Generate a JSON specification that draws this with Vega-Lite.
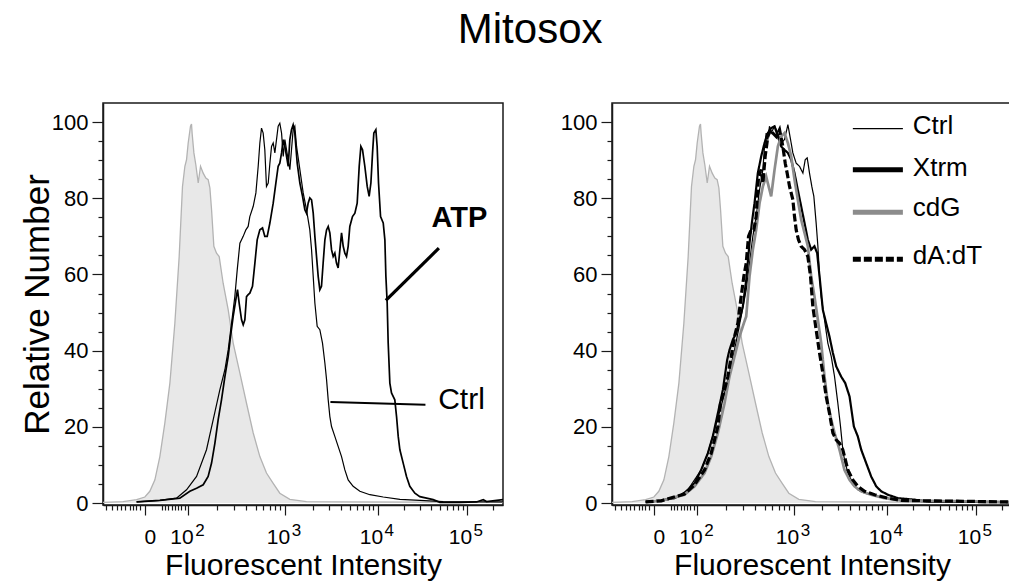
{
  "$schema": "https://vega.github.io/schema/vega-lite/v6.json",
  "padding": {"left": 19, "top": 9, "right": 0, "bottom": 0},
  "background": "white",
  "config": {
    "font": "Liberation Sans",
    "view": {"stroke": "#1a1a1a", "strokeWidth": 1.5},
    "axis": {"domainColor": "#1a1a1a", "domainWidth": 1.5, "tickColor": "#1a1a1a", "tickWidth": 1.2, "labelColor": "black", "titleColor": "black", "labelFont": "Liberation Sans", "titleFont": "Liberation Sans", "titleFontWeight": "normal", "grid": false, "labelOverlap": false, "labelFlush": false, "labelBound": false},
    "title": {"font": "Liberation Sans", "fontWeight": "normal", "color": "black"}
  },
  "title": {"text": "Mitosox", "fontSize": 42, "anchor": "middle", "offset": 50, "dx": 14},
  "spacing": 55,
  "datasets": {
    "gray": [
      {"u": -0.455, "v": 0.2}, {"u": -0.236, "v": 0.4}, {"u": -0.09, "v": 0.9}, {"u": 0, "v": 1.6}, {"u": 0.054, "v": 3.1}, {"u": 0.109, "v": 6.1}, {"u": 0.163, "v": 12.2}, {"u": 0.217, "v": 21}, {"u": 0.272, "v": 31.5}, {"u": 0.326, "v": 47.2}, {"u": 0.373, "v": 64.7}, {"u": 0.409, "v": 83.1}, {"u": 0.435, "v": 88.4}, {"u": 0.453, "v": 90.1}, {"u": 0.471, "v": 94.5}, {"u": 0.496, "v": 98.9}, {"u": 0.507, "v": 99.5}, {"u": 0.514, "v": 97}, {"u": 0.533, "v": 91.9}, {"u": 0.554, "v": 88.8}, {"u": 0.58, "v": 84}, {"u": 0.605, "v": 88.4}, {"u": 0.634, "v": 86.6}, {"u": 0.663, "v": 85.3}, {"u": 0.688, "v": 84.9}, {"u": 0.707, "v": 82.7}, {"u": 0.725, "v": 77}, {"u": 0.75, "v": 67.4}, {"u": 0.779, "v": 65.6}, {"u": 0.808, "v": 64.7}, {"u": 0.851, "v": 57.7}, {"u": 0.906, "v": 50.7}, {"u": 0.96, "v": 42}, {"u": 1.033, "v": 34.1}, {"u": 1.105, "v": 26.2}, {"u": 1.178, "v": 18.4}, {"u": 1.25, "v": 12.2}, {"u": 1.322, "v": 7.9}, {"u": 1.395, "v": 5.2}, {"u": 1.467, "v": 2.6}, {"u": 1.576, "v": 1}, {"u": 1.757, "v": 0.4}, {"u": 2.156, "v": 0.3}, {"u": 3.893, "v": 0.2}
    ],
    "left": [
      {"series": "Ctrl", "u": -0.09, "v": 0.3}, {"series": "Ctrl", "u": 0.163, "v": 0.7}, {"series": "Ctrl", "u": 0.344, "v": 1.3}, {"series": "Ctrl", "u": 0.453, "v": 3.5}, {"series": "Ctrl", "u": 0.562, "v": 7.0}, {"series": "Ctrl", "u": 0.67, "v": 14.0}, {"series": "Ctrl", "u": 0.743, "v": 21.9}, {"series": "Ctrl", "u": 0.815, "v": 29.7}, {"series": "Ctrl", "u": 0.87, "v": 35.0}, {"series": "Ctrl", "u": 0.906, "v": 40.2}, {"series": "Ctrl", "u": 0.942, "v": 47.2}, {"series": "Ctrl", "u": 0.978, "v": 54.2}, {"series": "Ctrl", "u": 1.004, "v": 61.2}, {"series": "Ctrl", "u": 1.033, "v": 68.2}, {"series": "Ctrl", "u": 1.069, "v": 70.0}, {"series": "Ctrl", "u": 1.098, "v": 71.7}, {"series": "Ctrl", "u": 1.123, "v": 72.6}, {"series": "Ctrl", "u": 1.141, "v": 75.2}, {"series": "Ctrl", "u": 1.178, "v": 77.9}, {"series": "Ctrl", "u": 1.207, "v": 81.4}, {"series": "Ctrl", "u": 1.232, "v": 88.4}, {"series": "Ctrl", "u": 1.25, "v": 94.5}, {"series": "Ctrl", "u": 1.268, "v": 98.4}, {"series": "Ctrl", "u": 1.286, "v": 97.1}, {"series": "Ctrl", "u": 1.304, "v": 92.7}, {"series": "Ctrl", "u": 1.322, "v": 83.1}, {"series": "Ctrl", "u": 1.341, "v": 84.0}, {"series": "Ctrl", "u": 1.359, "v": 89.2}, {"series": "Ctrl", "u": 1.377, "v": 93.6}, {"series": "Ctrl", "u": 1.395, "v": 94.5}, {"series": "Ctrl", "u": 1.413, "v": 91.9}, {"series": "Ctrl", "u": 1.431, "v": 95.4}, {"series": "Ctrl", "u": 1.449, "v": 98.9}, {"series": "Ctrl", "u": 1.467, "v": 99.7}, {"series": "Ctrl", "u": 1.486, "v": 97.1}, {"series": "Ctrl", "u": 1.504, "v": 91.0}, {"series": "Ctrl", "u": 1.522, "v": 95.4}, {"series": "Ctrl", "u": 1.54, "v": 92.7}, {"series": "Ctrl", "u": 1.576, "v": 87.5}, {"series": "Ctrl", "u": 1.612, "v": 98.0}, {"series": "Ctrl", "u": 1.63, "v": 98.9}, {"series": "Ctrl", "u": 1.649, "v": 93.6}, {"series": "Ctrl", "u": 1.685, "v": 87.5}, {"series": "Ctrl", "u": 1.721, "v": 81.4}, {"series": "Ctrl", "u": 1.757, "v": 77.0}, {"series": "Ctrl", "u": 1.793, "v": 71.7}, {"series": "Ctrl", "u": 1.812, "v": 66.5}, {"series": "Ctrl", "u": 1.83, "v": 59.5}, {"series": "Ctrl", "u": 1.848, "v": 52.5}, {"series": "Ctrl", "u": 1.873, "v": 46.4}, {"series": "Ctrl", "u": 1.902, "v": 45.5}, {"series": "Ctrl", "u": 1.931, "v": 42.0}, {"series": "Ctrl", "u": 1.957, "v": 36.7}, {"series": "Ctrl", "u": 1.975, "v": 32.4}, {"series": "Ctrl", "u": 1.993, "v": 27.1}, {"series": "Ctrl", "u": 2.011, "v": 22.7}, {"series": "Ctrl", "u": 2.029, "v": 20.1}, {"series": "Ctrl", "u": 2.065, "v": 17.5}, {"series": "Ctrl", "u": 2.101, "v": 14.9}, {"series": "Ctrl", "u": 2.138, "v": 12.2}, {"series": "Ctrl", "u": 2.174, "v": 8.7}, {"series": "Ctrl", "u": 2.21, "v": 6.1}, {"series": "Ctrl", "u": 2.264, "v": 4.4}, {"series": "Ctrl", "u": 2.337, "v": 3.1}, {"series": "Ctrl", "u": 2.446, "v": 2.2}, {"series": "Ctrl", "u": 2.591, "v": 1.6}, {"series": "Ctrl", "u": 2.772, "v": 1.0}, {"series": "Ctrl", "u": 2.989, "v": 0.7}, {"series": "Ctrl", "u": 3.243, "v": 0.4}, {"series": "Ctrl", "u": 3.893, "v": 0.3},
      {"series": "ATP", "u": -0.09, "v": 0.3}, {"series": "ATP", "u": 0.163, "v": 0.7}, {"series": "ATP", "u": 0.38, "v": 1.3}, {"series": "ATP", "u": 0.489, "v": 3.1}, {"series": "ATP", "u": 0.562, "v": 3.9}, {"series": "ATP", "u": 0.634, "v": 4.8}, {"series": "ATP", "u": 0.688, "v": 7.0}, {"series": "ATP", "u": 0.725, "v": 10.5}, {"series": "ATP", "u": 0.761, "v": 15.7}, {"series": "ATP", "u": 0.797, "v": 21.9}, {"series": "ATP", "u": 0.833, "v": 27.1}, {"series": "ATP", "u": 0.87, "v": 33.2}, {"series": "ATP", "u": 0.906, "v": 38.5}, {"series": "ATP", "u": 0.931, "v": 43.7}, {"series": "ATP", "u": 0.96, "v": 49.0}, {"series": "ATP", "u": 0.989, "v": 53.4}, {"series": "ATP", "u": 1.007, "v": 56.0}, {"series": "ATP", "u": 1.025, "v": 52.5}, {"series": "ATP", "u": 1.051, "v": 48.1}, {"series": "ATP", "u": 1.069, "v": 46.8}, {"series": "ATP", "u": 1.087, "v": 48.1}, {"series": "ATP", "u": 1.105, "v": 54.2}, {"series": "ATP", "u": 1.123, "v": 54.7}, {"series": "ATP", "u": 1.141, "v": 55.1}, {"series": "ATP", "u": 1.17, "v": 56.9}, {"series": "ATP", "u": 1.196, "v": 63.0}, {"series": "ATP", "u": 1.221, "v": 69.1}, {"series": "ATP", "u": 1.25, "v": 71.7}, {"series": "ATP", "u": 1.279, "v": 72.2}, {"series": "ATP", "u": 1.304, "v": 70.0}, {"series": "ATP", "u": 1.33, "v": 70.0}, {"series": "ATP", "u": 1.359, "v": 73.5}, {"series": "ATP", "u": 1.395, "v": 78.7}, {"series": "ATP", "u": 1.424, "v": 84.0}, {"series": "ATP", "u": 1.449, "v": 88.4}, {"series": "ATP", "u": 1.467, "v": 89.2}, {"series": "ATP", "u": 1.486, "v": 91.9}, {"series": "ATP", "u": 1.504, "v": 95.4}, {"series": "ATP", "u": 1.522, "v": 93.6}, {"series": "ATP", "u": 1.54, "v": 91.0}, {"series": "ATP", "u": 1.558, "v": 88.4}, {"series": "ATP", "u": 1.576, "v": 95.4}, {"series": "ATP", "u": 1.594, "v": 98.0}, {"series": "ATP", "u": 1.612, "v": 99.3}, {"series": "ATP", "u": 1.63, "v": 97.1}, {"series": "ATP", "u": 1.656, "v": 89.2}, {"series": "ATP", "u": 1.685, "v": 84.0}, {"series": "ATP", "u": 1.714, "v": 80.5}, {"series": "ATP", "u": 1.739, "v": 77.0}, {"series": "ATP", "u": 1.757, "v": 76.1}, {"series": "ATP", "u": 1.775, "v": 78.7}, {"series": "ATP", "u": 1.793, "v": 80.1}, {"series": "ATP", "u": 1.812, "v": 79.6}, {"series": "ATP", "u": 1.83, "v": 76.1}, {"series": "ATP", "u": 1.848, "v": 70.0}, {"series": "ATP", "u": 1.866, "v": 64.7}, {"series": "ATP", "u": 1.884, "v": 59.5}, {"series": "ATP", "u": 1.902, "v": 56.0}, {"series": "ATP", "u": 1.92, "v": 56.9}, {"series": "ATP", "u": 1.938, "v": 63.0}, {"series": "ATP", "u": 1.957, "v": 69.1}, {"series": "ATP", "u": 1.975, "v": 71.7}, {"series": "ATP", "u": 1.993, "v": 72.6}, {"series": "ATP", "u": 2.011, "v": 70.9}, {"series": "ATP", "u": 2.029, "v": 66.5}, {"series": "ATP", "u": 2.047, "v": 64.7}, {"series": "ATP", "u": 2.065, "v": 65.6}, {"series": "ATP", "u": 2.083, "v": 63.0}, {"series": "ATP", "u": 2.101, "v": 61.7}, {"series": "ATP", "u": 2.12, "v": 66.5}, {"series": "ATP", "u": 2.138, "v": 70.9}, {"series": "ATP", "u": 2.156, "v": 67.4}, {"series": "ATP", "u": 2.174, "v": 65.6}, {"series": "ATP", "u": 2.192, "v": 64.7}, {"series": "ATP", "u": 2.21, "v": 67.4}, {"series": "ATP", "u": 2.228, "v": 72.6}, {"series": "ATP", "u": 2.257, "v": 75.2}, {"series": "ATP", "u": 2.283, "v": 76.1}, {"series": "ATP", "u": 2.308, "v": 78.7}, {"series": "ATP", "u": 2.33, "v": 88.4}, {"series": "ATP", "u": 2.348, "v": 93.6}, {"series": "ATP", "u": 2.366, "v": 92.7}, {"series": "ATP", "u": 2.391, "v": 88.4}, {"series": "ATP", "u": 2.417, "v": 83.1}, {"series": "ATP", "u": 2.438, "v": 80.5}, {"series": "ATP", "u": 2.457, "v": 84.0}, {"series": "ATP", "u": 2.475, "v": 91.9}, {"series": "ATP", "u": 2.489, "v": 97.1}, {"series": "ATP", "u": 2.511, "v": 98.0}, {"series": "ATP", "u": 2.525, "v": 93.6}, {"series": "ATP", "u": 2.54, "v": 84.0}, {"series": "ATP", "u": 2.562, "v": 75.2}, {"series": "ATP", "u": 2.591, "v": 73.5}, {"series": "ATP", "u": 2.609, "v": 69.1}, {"series": "ATP", "u": 2.62, "v": 59.5}, {"series": "ATP", "u": 2.634, "v": 52.5}, {"series": "ATP", "u": 2.645, "v": 42.0}, {"series": "ATP", "u": 2.663, "v": 31.5}, {"series": "ATP", "u": 2.681, "v": 28.9}, {"series": "ATP", "u": 2.717, "v": 27.1}, {"series": "ATP", "u": 2.736, "v": 22.7}, {"series": "ATP", "u": 2.754, "v": 17.5}, {"series": "ATP", "u": 2.772, "v": 14.0}, {"series": "ATP", "u": 2.808, "v": 10.5}, {"series": "ATP", "u": 2.844, "v": 7.0}, {"series": "ATP", "u": 2.88, "v": 4.4}, {"series": "ATP", "u": 2.935, "v": 2.6}, {"series": "ATP", "u": 2.989, "v": 1.7}, {"series": "ATP", "u": 3.062, "v": 1.3}, {"series": "ATP", "u": 3.134, "v": 0.9}, {"series": "ATP", "u": 3.207, "v": 0.2}, {"series": "ATP", "u": 3.424, "v": 0.2}, {"series": "ATP", "u": 3.605, "v": 0.3}, {"series": "ATP", "u": 3.678, "v": 0.9}, {"series": "ATP", "u": 3.714, "v": 0.4}, {"series": "ATP", "u": 3.893, "v": 0.9}
    ],
    "right": [
      {"series": "Ctrl", "u": -0.09, "v": 0.3}, {"series": "Ctrl", "u": 0.08, "v": 0.7}, {"series": "Ctrl", "u": 0.261, "v": 1.7}, {"series": "Ctrl", "u": 0.37, "v": 3.5}, {"series": "Ctrl", "u": 0.442, "v": 6.1}, {"series": "Ctrl", "u": 0.514, "v": 8.7}, {"series": "Ctrl", "u": 0.587, "v": 13.1}, {"series": "Ctrl", "u": 0.659, "v": 19.2}, {"series": "Ctrl", "u": 0.732, "v": 25.4}, {"series": "Ctrl", "u": 0.804, "v": 32.4}, {"series": "Ctrl", "u": 0.877, "v": 40.2}, {"series": "Ctrl", "u": 0.949, "v": 49.0}, {"series": "Ctrl", "u": 1.004, "v": 56.0}, {"series": "Ctrl", "u": 1.04, "v": 63.0}, {"series": "Ctrl", "u": 1.076, "v": 70.0}, {"series": "Ctrl", "u": 1.112, "v": 75.2}, {"series": "Ctrl", "u": 1.149, "v": 82.2}, {"series": "Ctrl", "u": 1.185, "v": 87.5}, {"series": "Ctrl", "u": 1.203, "v": 93.6}, {"series": "Ctrl", "u": 1.221, "v": 97.1}, {"series": "Ctrl", "u": 1.239, "v": 95.4}, {"series": "Ctrl", "u": 1.257, "v": 98.9}, {"series": "Ctrl", "u": 1.275, "v": 97.1}, {"series": "Ctrl", "u": 1.312, "v": 98.9}, {"series": "Ctrl", "u": 1.348, "v": 97.1}, {"series": "Ctrl", "u": 1.384, "v": 94.5}, {"series": "Ctrl", "u": 1.42, "v": 95.4}, {"series": "Ctrl", "u": 1.457, "v": 99.3}, {"series": "Ctrl", "u": 1.486, "v": 95.4}, {"series": "Ctrl", "u": 1.511, "v": 91.9}, {"series": "Ctrl", "u": 1.547, "v": 89.2}, {"series": "Ctrl", "u": 1.583, "v": 88.4}, {"series": "Ctrl", "u": 1.62, "v": 86.6}, {"series": "Ctrl", "u": 1.645, "v": 90.1}, {"series": "Ctrl", "u": 1.667, "v": 90.6}, {"series": "Ctrl", "u": 1.692, "v": 86.6}, {"series": "Ctrl", "u": 1.717, "v": 83.1}, {"series": "Ctrl", "u": 1.739, "v": 80.5}, {"series": "Ctrl", "u": 1.764, "v": 73.5}, {"series": "Ctrl", "u": 1.783, "v": 67.4}, {"series": "Ctrl", "u": 1.801, "v": 59.5}, {"series": "Ctrl", "u": 1.819, "v": 54.2}, {"series": "Ctrl", "u": 1.855, "v": 48.1}, {"series": "Ctrl", "u": 1.891, "v": 42.0}, {"series": "Ctrl", "u": 1.928, "v": 38.5}, {"series": "Ctrl", "u": 1.964, "v": 33.2}, {"series": "Ctrl", "u": 2.0, "v": 26.2}, {"series": "Ctrl", "u": 2.029, "v": 20.1}, {"series": "Ctrl", "u": 2.054, "v": 14.0}, {"series": "Ctrl", "u": 2.072, "v": 11.4}, {"series": "Ctrl", "u": 2.109, "v": 7.9}, {"series": "Ctrl", "u": 2.163, "v": 5.2}, {"series": "Ctrl", "u": 2.217, "v": 3.5}, {"series": "Ctrl", "u": 2.29, "v": 2.6}, {"series": "Ctrl", "u": 2.399, "v": 1.9}, {"series": "Ctrl", "u": 2.543, "v": 1.3}, {"series": "Ctrl", "u": 2.688, "v": 0.9}, {"series": "Ctrl", "u": 2.906, "v": 0.4}, {"series": "Ctrl", "u": 3.893, "v": 0.3},
      {"series": "Xtrm", "u": -0.09, "v": 0.3}, {"series": "Xtrm", "u": 0.08, "v": 0.7}, {"series": "Xtrm", "u": 0.225, "v": 1.3}, {"series": "Xtrm", "u": 0.333, "v": 2.6}, {"series": "Xtrm", "u": 0.442, "v": 5.2}, {"series": "Xtrm", "u": 0.514, "v": 8.7}, {"series": "Xtrm", "u": 0.587, "v": 13.1}, {"series": "Xtrm", "u": 0.641, "v": 17.5}, {"series": "Xtrm", "u": 0.696, "v": 23.6}, {"series": "Xtrm", "u": 0.75, "v": 29.7}, {"series": "Xtrm", "u": 0.797, "v": 37.6}, {"series": "Xtrm", "u": 0.822, "v": 40.2}, {"series": "Xtrm", "u": 0.859, "v": 42.9}, {"series": "Xtrm", "u": 0.895, "v": 44.6}, {"series": "Xtrm", "u": 0.931, "v": 48.1}, {"series": "Xtrm", "u": 0.967, "v": 51.6}, {"series": "Xtrm", "u": 1.004, "v": 58.6}, {"series": "Xtrm", "u": 1.04, "v": 68.2}, {"series": "Xtrm", "u": 1.065, "v": 73.5}, {"series": "Xtrm", "u": 1.094, "v": 78.7}, {"series": "Xtrm", "u": 1.13, "v": 86.6}, {"series": "Xtrm", "u": 1.167, "v": 91.0}, {"series": "Xtrm", "u": 1.203, "v": 94.5}, {"series": "Xtrm", "u": 1.239, "v": 97.1}, {"series": "Xtrm", "u": 1.275, "v": 98.4}, {"series": "Xtrm", "u": 1.312, "v": 98.9}, {"series": "Xtrm", "u": 1.348, "v": 96.2}, {"series": "Xtrm", "u": 1.384, "v": 93.6}, {"series": "Xtrm", "u": 1.42, "v": 92.7}, {"series": "Xtrm", "u": 1.457, "v": 91.9}, {"series": "Xtrm", "u": 1.493, "v": 90.1}, {"series": "Xtrm", "u": 1.529, "v": 86.6}, {"series": "Xtrm", "u": 1.565, "v": 82.2}, {"series": "Xtrm", "u": 1.601, "v": 77.9}, {"series": "Xtrm", "u": 1.638, "v": 73.5}, {"series": "Xtrm", "u": 1.674, "v": 69.1}, {"series": "Xtrm", "u": 1.71, "v": 66.5}, {"series": "Xtrm", "u": 1.746, "v": 67.4}, {"series": "Xtrm", "u": 1.775, "v": 65.6}, {"series": "Xtrm", "u": 1.801, "v": 59.5}, {"series": "Xtrm", "u": 1.837, "v": 50.7}, {"series": "Xtrm", "u": 1.873, "v": 47.2}, {"series": "Xtrm", "u": 1.909, "v": 43.7}, {"series": "Xtrm", "u": 1.946, "v": 39.4}, {"series": "Xtrm", "u": 1.982, "v": 35.9}, {"series": "Xtrm", "u": 2.036, "v": 33.2}, {"series": "Xtrm", "u": 2.08, "v": 31.5}, {"series": "Xtrm", "u": 2.127, "v": 28.0}, {"series": "Xtrm", "u": 2.174, "v": 20.1}, {"series": "Xtrm", "u": 2.217, "v": 17.5}, {"series": "Xtrm", "u": 2.254, "v": 14.0}, {"series": "Xtrm", "u": 2.308, "v": 10.5}, {"series": "Xtrm", "u": 2.362, "v": 7.0}, {"series": "Xtrm", "u": 2.417, "v": 4.4}, {"series": "Xtrm", "u": 2.471, "v": 3.1}, {"series": "Xtrm", "u": 2.543, "v": 2.2}, {"series": "Xtrm", "u": 2.652, "v": 1.3}, {"series": "Xtrm", "u": 2.833, "v": 0.9}, {"series": "Xtrm", "u": 2.978, "v": 0.4}, {"series": "Xtrm", "u": 3.893, "v": 0.2},
      {"series": "cdG", "u": -0.09, "v": 0.3}, {"series": "cdG", "u": 0.08, "v": 0.6}, {"series": "cdG", "u": 0.333, "v": 2.2}, {"series": "cdG", "u": 0.442, "v": 4.4}, {"series": "cdG", "u": 0.551, "v": 7.9}, {"series": "cdG", "u": 0.623, "v": 12.2}, {"series": "cdG", "u": 0.696, "v": 18.4}, {"series": "cdG", "u": 0.768, "v": 26.2}, {"series": "cdG", "u": 0.822, "v": 33.2}, {"series": "cdG", "u": 0.877, "v": 38.5}, {"series": "cdG", "u": 0.931, "v": 43.7}, {"series": "cdG", "u": 0.978, "v": 47.2}, {"series": "cdG", "u": 1.004, "v": 49.0}, {"series": "cdG", "u": 1.04, "v": 59.5}, {"series": "cdG", "u": 1.076, "v": 66.5}, {"series": "cdG", "u": 1.112, "v": 71.7}, {"series": "cdG", "u": 1.149, "v": 78.7}, {"series": "cdG", "u": 1.185, "v": 83.1}, {"series": "cdG", "u": 1.221, "v": 85.7}, {"series": "cdG", "u": 1.257, "v": 82.2}, {"series": "cdG", "u": 1.275, "v": 80.5}, {"series": "cdG", "u": 1.312, "v": 87.5}, {"series": "cdG", "u": 1.348, "v": 93.6}, {"series": "cdG", "u": 1.384, "v": 96.2}, {"series": "cdG", "u": 1.42, "v": 97.1}, {"series": "cdG", "u": 1.457, "v": 94.5}, {"series": "cdG", "u": 1.493, "v": 91.0}, {"series": "cdG", "u": 1.529, "v": 84.9}, {"series": "cdG", "u": 1.565, "v": 79.6}, {"series": "cdG", "u": 1.601, "v": 74.4}, {"series": "cdG", "u": 1.638, "v": 70.9}, {"series": "cdG", "u": 1.674, "v": 67.4}, {"series": "cdG", "u": 1.71, "v": 59.5}, {"series": "cdG", "u": 1.746, "v": 54.2}, {"series": "cdG", "u": 1.783, "v": 48.1}, {"series": "cdG", "u": 1.819, "v": 42.0}, {"series": "cdG", "u": 1.855, "v": 33.2}, {"series": "cdG", "u": 1.891, "v": 26.2}, {"series": "cdG", "u": 1.928, "v": 21.9}, {"series": "cdG", "u": 1.964, "v": 18.4}, {"series": "cdG", "u": 2.018, "v": 14.0}, {"series": "cdG", "u": 2.072, "v": 8.7}, {"series": "cdG", "u": 2.127, "v": 6.1}, {"series": "cdG", "u": 2.181, "v": 4.4}, {"series": "cdG", "u": 2.254, "v": 3.1}, {"series": "cdG", "u": 2.362, "v": 2.2}, {"series": "cdG", "u": 2.507, "v": 1.3}, {"series": "cdG", "u": 2.688, "v": 0.7}, {"series": "cdG", "u": 3.893, "v": 0.3},
      {"series": "dA:dT", "u": -0.09, "v": 0.3}, {"series": "dA:dT", "u": 0.08, "v": 0.6}, {"series": "dA:dT", "u": 0.333, "v": 2.4}, {"series": "dA:dT", "u": 0.442, "v": 4.8}, {"series": "dA:dT", "u": 0.551, "v": 8.7}, {"series": "dA:dT", "u": 0.623, "v": 13.1}, {"series": "dA:dT", "u": 0.696, "v": 20.1}, {"series": "dA:dT", "u": 0.725, "v": 26.2}, {"series": "dA:dT", "u": 0.768, "v": 29.7}, {"series": "dA:dT", "u": 0.804, "v": 33.2}, {"series": "dA:dT", "u": 0.841, "v": 38.5}, {"series": "dA:dT", "u": 0.877, "v": 43.7}, {"series": "dA:dT", "u": 0.913, "v": 47.2}, {"series": "dA:dT", "u": 0.949, "v": 54.2}, {"series": "dA:dT", "u": 0.978, "v": 59.5}, {"series": "dA:dT", "u": 1.004, "v": 63.0}, {"series": "dA:dT", "u": 1.029, "v": 70.0}, {"series": "dA:dT", "u": 1.058, "v": 71.7}, {"series": "dA:dT", "u": 1.087, "v": 71.7}, {"series": "dA:dT", "u": 1.112, "v": 75.2}, {"series": "dA:dT", "u": 1.138, "v": 85.7}, {"series": "dA:dT", "u": 1.167, "v": 87.5}, {"series": "dA:dT", "u": 1.185, "v": 84.0}, {"series": "dA:dT", "u": 1.21, "v": 91.0}, {"series": "dA:dT", "u": 1.239, "v": 96.2}, {"series": "dA:dT", "u": 1.268, "v": 98.0}, {"series": "dA:dT", "u": 1.293, "v": 97.1}, {"series": "dA:dT", "u": 1.33, "v": 96.2}, {"series": "dA:dT", "u": 1.366, "v": 98.0}, {"series": "dA:dT", "u": 1.402, "v": 93.6}, {"series": "dA:dT", "u": 1.428, "v": 89.2}, {"series": "dA:dT", "u": 1.449, "v": 86.6}, {"series": "dA:dT", "u": 1.475, "v": 83.1}, {"series": "dA:dT", "u": 1.511, "v": 79.6}, {"series": "dA:dT", "u": 1.529, "v": 75.2}, {"series": "dA:dT", "u": 1.547, "v": 71.7}, {"series": "dA:dT", "u": 1.572, "v": 69.1}, {"series": "dA:dT", "u": 1.601, "v": 67.4}, {"series": "dA:dT", "u": 1.638, "v": 66.5}, {"series": "dA:dT", "u": 1.674, "v": 64.7}, {"series": "dA:dT", "u": 1.703, "v": 59.5}, {"series": "dA:dT", "u": 1.728, "v": 51.6}, {"series": "dA:dT", "u": 1.764, "v": 45.5}, {"series": "dA:dT", "u": 1.801, "v": 39.4}, {"series": "dA:dT", "u": 1.837, "v": 34.1}, {"series": "dA:dT", "u": 1.873, "v": 28.0}, {"series": "dA:dT", "u": 1.909, "v": 23.6}, {"series": "dA:dT", "u": 1.946, "v": 18.4}, {"series": "dA:dT", "u": 1.982, "v": 16.6}, {"series": "dA:dT", "u": 2.018, "v": 15.7}, {"series": "dA:dT", "u": 2.054, "v": 14.0}, {"series": "dA:dT", "u": 2.109, "v": 8.7}, {"series": "dA:dT", "u": 2.163, "v": 6.1}, {"series": "dA:dT", "u": 2.217, "v": 4.4}, {"series": "dA:dT", "u": 2.29, "v": 3.1}, {"series": "dA:dT", "u": 2.399, "v": 2.2}, {"series": "dA:dT", "u": 2.543, "v": 1.3}, {"series": "dA:dT", "u": 2.688, "v": 0.7}, {"series": "dA:dT", "u": 3.893, "v": 0.3}
    ],
    "legend": [
      {"series": "Ctrl", "u": 2.163, "u2": 2.707, "v": 98.3},
      {"series": "Xtrm", "u": 2.163, "u2": 2.707, "v": 87.5},
      {"series": "cdG", "u": 2.163, "u2": 2.707, "v": 76.3},
      {"series": "dA:dT", "u": 2.163, "u2": 2.707, "v": 64.0}
    ],
    "legendText": [
      {"series": "Ctrl", "u": 2.815, "v": 96.8},
      {"series": "Xtrm", "u": 2.815, "v": 85.8},
      {"series": "cdG", "u": 2.815, "v": 75.3},
      {"series": "dA:dT", "u": 2.815, "v": 62.8}
    ],
    "exponents": [
      {"u": 0.471, "v": -0.5, "exp": "2"},
      {"u": 1.52, "v": -0.5, "exp": "3"},
      {"u": 2.53, "v": -0.5, "exp": "4"},
      {"u": 3.497, "v": -0.5, "exp": "5"}
    ]
  },
  "hconcat": [
    {
      "width": 400,
      "height": 402,
      "encoding": {
        "x": {"field": "u", "type": "quantitative", "scale": {"domain": [-0.455, 3.893], "nice": false, "zero": false},
          "axis": {"title": "Fluorescent Intensity", "titleFontSize": 30, "titlePadding": 3, "labelFontSize": 21, "labelPadding": 11, "labelOffset": 5,
            "values": [-0.417,-0.362,-0.308,-0.254,-0.217,-0.163,-0.127,-0.091,-0.054,0,0.181,0.217,0.253,0.297,0.333,0.362,0.391,0.435,0.471,0.787,0.972,1.103,1.204,1.287,1.358,1.418,1.472,1.52,1.824,2.002,2.128,2.226,2.306,2.374,2.432,2.484,2.53,2.821,2.991,3.112,3.206,3.283,3.347,3.403,3.453,3.497,3.788],
            "labelExpr": "datum.value == 0 ? '0' : indexof([0.471,1.52,2.53,3.497], datum.value) >= 0 ? '10' : ''",
            "labelAlign": {"condition": {"test": "datum.value == 0", "value": "center"}, "value": "right"},
            "tickSize": {"condition": {"test": "indexof([0,0.471,1.52,2.53,3.497], datum.value) >= 0", "value": 10}, "value": 5}}},
        "y": {"field": "v", "type": "quantitative", "scale": {"domain": [-0.5, 105], "nice": false, "zero": false},
          "axis": {"title": "Relative Number", "titleFontSize": 35, "titlePadding": -4, "labelFontSize": 22, "labelPadding": 4,
            "values": [0,5,10,15,20,25,30,35,40,45,50,55,60,65,70,75,80,85,90,95,100],
            "labelExpr": "datum.value % 20 == 0 ? datum.label : ''",
            "tickSize": {"condition": {"test": "datum.value % 20 == 0", "value": 11}, "value": 5}}}
      },
      "layer": [
        {"data": {"name": "gray"}, "mark": {"type": "area", "color": "#e8e8e8", "clip": true}},
        {"data": {"name": "gray"}, "mark": {"type": "line", "color": "#b3b3b3", "strokeWidth": 1.3, "clip": true}},
        {"data": {"name": "left"}, "mark": {"type": "line", "clip": true, "color": "black"},
          "encoding": {
            "detail": {"field": "series"},
            "strokeWidth": {"field": "series", "type": "nominal", "scale": {"domain": ["Ctrl", "ATP"], "range": [1.2, 3.2]}, "legend": null}
          }},
        {"data": {"values": [{"u": 2.017, "v": 26.5, "u2": 3.05, "v2": 25.8}]}, "mark": {"type": "rule", "color": "black", "strokeWidth": 2},
          "encoding": {"x2": {"field": "u2"}, "y2": {"field": "v2"}}},
        {"data": {"values": [{"u": 2.62, "v": 53.2, "u2": 3.196, "v2": 66.9}]}, "mark": {"type": "rule", "color": "black", "strokeWidth": 3.2},
          "encoding": {"x2": {"field": "u2"}, "y2": {"field": "v2"}}},
        {"data": {"values": [{"u": 3.188, "v": 24.8, "label": "Ctrl"}]}, "mark": {"type": "text", "align": "left", "baseline": "alphabetic", "fontSize": 30, "color": "black"},
          "encoding": {"text": {"field": "label"}}},
        {"data": {"values": [{"u": 3.115, "v": 72.4, "label": "ATP"}]}, "mark": {"type": "text", "align": "left", "baseline": "alphabetic", "fontSize": 29, "fontWeight": "bold", "color": "black"},
          "encoding": {"text": {"field": "label"}}},
        {"data": {"name": "exponents"}, "mark": {"type": "text", "align": "left", "baseline": "top", "fontSize": 17, "color": "black", "dx": 7, "dy": 18, "clip": false},
          "encoding": {"text": {"field": "exp"}}}
      ]
    },
    {
      "width": 400,
      "height": 402,
      "encoding": {
        "x": {"field": "u", "type": "quantitative", "scale": {"domain": [-0.455, 3.893], "nice": false, "zero": false},
          "axis": {"title": "Fluorescent Intensity", "titleFontSize": 30, "titlePadding": 3, "labelFontSize": 21, "labelPadding": 11, "labelOffset": 5,
            "values": [-0.417,-0.362,-0.308,-0.254,-0.217,-0.163,-0.127,-0.091,-0.054,0,0.181,0.217,0.253,0.297,0.333,0.362,0.391,0.435,0.471,0.787,0.972,1.103,1.204,1.287,1.358,1.418,1.472,1.52,1.824,2.002,2.128,2.226,2.306,2.374,2.432,2.484,2.53,2.821,2.991,3.112,3.206,3.283,3.347,3.403,3.453,3.497,3.788],
            "labelExpr": "datum.value == 0 ? '0' : indexof([0.471,1.52,2.53,3.497], datum.value) >= 0 ? '10' : ''",
            "labelAlign": {"condition": {"test": "datum.value == 0", "value": "center"}, "value": "right"},
            "tickSize": {"condition": {"test": "indexof([0,0.471,1.52,2.53,3.497], datum.value) >= 0", "value": 10}, "value": 5}}},
        "y": {"field": "v", "type": "quantitative", "scale": {"domain": [-0.5, 105], "nice": false, "zero": false},
          "axis": {"title": null, "labelFontSize": 22, "labelPadding": 4,
            "values": [0,5,10,15,20,25,30,35,40,45,50,55,60,65,70,75,80,85,90,95,100],
            "labelExpr": "datum.value % 20 == 0 ? datum.label : ''",
            "tickSize": {"condition": {"test": "datum.value % 20 == 0", "value": 11}, "value": 5}}}
      },
      "layer": [
        {"data": {"name": "gray"}, "mark": {"type": "area", "color": "#e8e8e8", "clip": true}},
        {"data": {"name": "gray"}, "mark": {"type": "line", "color": "#b3b3b3", "strokeWidth": 1.3, "clip": true}},
        {"data": {"name": "right"}, "mark": {"type": "line", "clip": true},
          "encoding": {
            "color": {"field": "series", "type": "nominal", "scale": {"domain": ["Ctrl", "Xtrm", "cdG", "dA:dT"], "range": ["black", "black", "#8c8c8c", "black"]}, "legend": null},
            "strokeWidth": {"field": "series", "type": "nominal", "scale": {"domain": ["Ctrl", "Xtrm", "cdG", "dA:dT"], "range": [1.2, 3, 3, 3]}, "legend": null},
            "strokeDash": {"field": "series", "type": "nominal", "scale": {"domain": ["Ctrl", "Xtrm", "cdG", "dA:dT"], "range": [[1, 0], [1, 0], [1, 0], [8, 3]]}, "legend": null}
          }},
        {"data": {"name": "legend"}, "transform": [{"filter": "datum.series == 'Ctrl'"}], "mark": {"type": "rule", "color": "black", "strokeWidth": 1.3},
          "encoding": {"x2": {"field": "u2"}}},
        {"data": {"name": "legend"}, "transform": [{"filter": "datum.series != 'Ctrl'"}], "mark": {"type": "rule", "strokeWidth": 5},
          "encoding": {"x2": {"field": "u2"},
            "color": {"field": "series", "type": "nominal", "scale": {"domain": ["Ctrl", "Xtrm", "cdG", "dA:dT"], "range": ["black", "black", "#8c8c8c", "black"]}, "legend": null},
            "strokeDash": {"field": "series", "type": "nominal", "scale": {"domain": ["Ctrl", "Xtrm", "cdG", "dA:dT"], "range": [[1, 0], [1, 0], [1, 0], [10, 4]]}, "legend": null}}},
        {"data": {"name": "legendText"}, "mark": {"type": "text", "align": "left", "baseline": "alphabetic", "fontSize": 26, "color": "black"},
          "encoding": {"text": {"field": "series"}}},
        {"data": {"name": "exponents"}, "mark": {"type": "text", "align": "left", "baseline": "top", "fontSize": 17, "color": "black", "dx": 7, "dy": 18, "clip": false},
          "encoding": {"text": {"field": "exp"}}}
      ]
    }
  ]
}
